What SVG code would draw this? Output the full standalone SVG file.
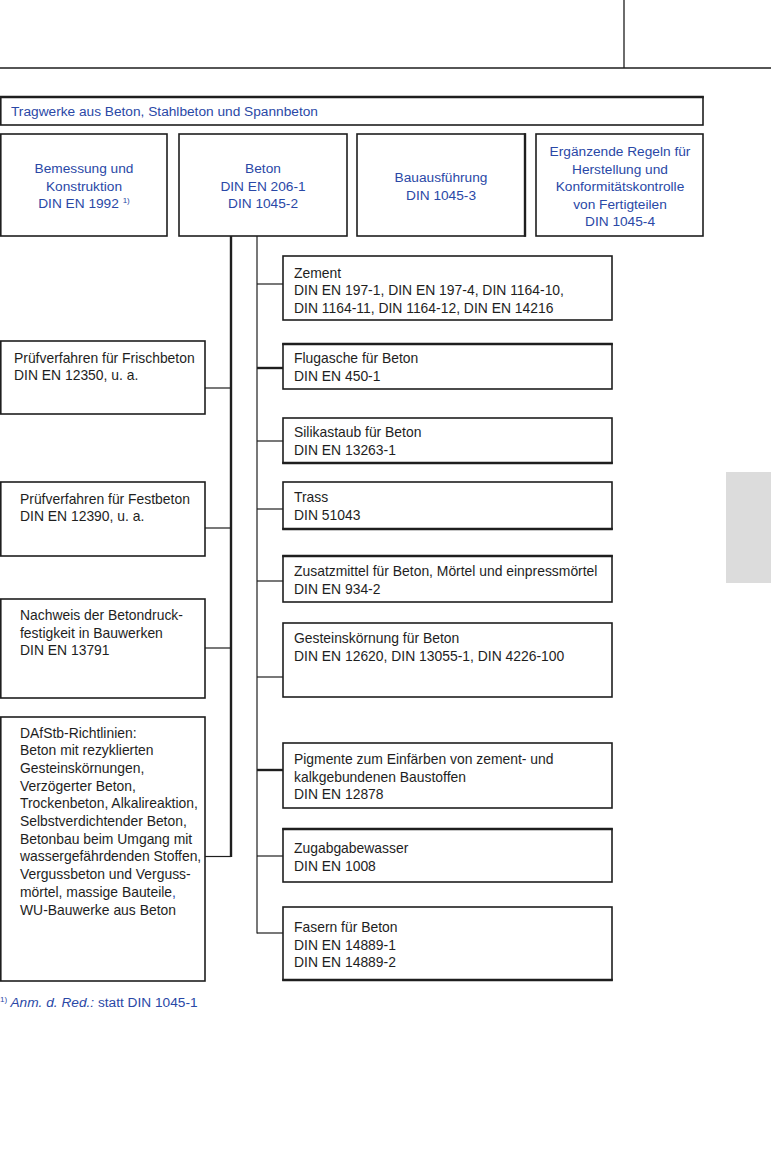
<svg xmlns="http://www.w3.org/2000/svg" width="771" height="1151" viewBox="0 0 771 1151">
<style>
.box{fill:#fff;stroke:#1e1e1e;stroke-width:1.6}
.t{font-family:"Liberation Sans",Arial,sans-serif;font-size:13.9px;fill:#1e1e1e}
.b{font-family:"Liberation Sans",Arial,sans-serif;font-size:13.7px;fill:#2a48a6}
.c{text-anchor:middle}
.thin{stroke:#1e1e1e;stroke-width:1.2;fill:none}
.thick{stroke:#1e1e1e;stroke-width:2.4;fill:none}
</style>
<rect width="771" height="1151" fill="#fff"/>
<g id="header">
<line x1="0" y1="68" x2="771" y2="68" stroke="#1e1e1e" stroke-width="1.3"/>
<line x1="624" y1="0" x2="624" y2="68" stroke="#1e1e1e" stroke-width="1.3"/>
<rect x="726" y="472" width="45" height="111" fill="#dcdcdc"/>
</g>
<g id="connectors">
<line class="thick" x1="231" y1="236" x2="231" y2="857"/>
<line class="thin" x1="257" y1="236" x2="257" y2="933.6"/>
<line class="thin" x1="205" y1="388" x2="231" y2="388"/>
<line class="thin" x1="205" y1="528" x2="231" y2="528"/>
<line class="thin" x1="205" y1="648" x2="231" y2="648"/>
<line class="thin" x1="205" y1="856.5" x2="231" y2="856.5"/>
<line class="thin" x1="257" y1="284" x2="283" y2="284"/>
<line class="thick" x1="257" y1="368" x2="283" y2="368"/>
<line class="thin" x1="257" y1="441" x2="283" y2="441"/>
<line class="thin" x1="257" y1="509" x2="283" y2="509"/>
<line class="thin" x1="257" y1="581" x2="283" y2="581"/>
<line class="thin" x1="257" y1="677" x2="283" y2="677"/>
<line class="thick" x1="257" y1="770" x2="283" y2="770"/>
<line class="thin" x1="257" y1="856" x2="283" y2="856"/>
<line class="thin" x1="257" y1="933" x2="283" y2="933"/>
</g>
<g id="n-tragwerke">
<rect class="box" x="0.8" y="97" width="702.2" height="28"/>
<line x1="0" y1="97" x2="703.8" y2="97" stroke="#1e1e1e" stroke-width="2.4"/>
<text class="b" x="11" y="115.5">Tragwerke aus Beton, Stahlbeton und Spannbeton</text>
</g>
<g id="n-bemessung">
<rect class="box" x="0.8" y="134" width="166.2" height="102"/>
<text class="b c" x="84" y="173">Bemessung und</text>
<text class="b c" x="84" y="190.5">Konstruktion</text>
<text class="b c" x="84" y="208">DIN EN 1992 <tspan font-size="8" dy="-5">1)</tspan></text>
</g>
<g id="n-beton">
<rect class="box" x="179" y="134" width="168" height="102"/>
<text class="b c" x="263" y="173">Beton</text>
<text class="b c" x="263" y="190.5">DIN EN 206-1</text>
<text class="b c" x="263" y="208">DIN 1045-2</text>
</g>
<g id="n-bauausfuehrung">
<rect class="box" x="357" y="134" width="168" height="102"/>
<line x1="525" y1="133.2" x2="525" y2="236.8" stroke="#1e1e1e" stroke-width="2.4"/>
<text class="b c" x="441" y="182">Bauausführung</text>
<text class="b c" x="441" y="199.5">DIN 1045-3</text>
</g>
<g id="n-fertigteile">
<rect class="box" x="536" y="134" width="167" height="102"/>
<text class="b c" x="620" y="156">Ergänzende Regeln für</text>
<text class="b c" x="620" y="173.5">Herstellung und</text>
<text class="b c" x="620" y="191">Konformitätskontrolle</text>
<text class="b c" x="620" y="208.5">von Fertigteilen</text>
<text class="b c" x="620" y="226">DIN 1045-4</text>
</g>
<g id="n-frischbeton">
<rect class="box" x="0.8" y="341" width="204.2" height="73"/>
<text class="t" x="14" y="362.5">Prüfverfahren für Frischbeton</text>
<text class="t" x="14" y="380">DIN EN 12350, u. a.</text>
</g>
<g id="n-festbeton">
<rect class="box" x="0.8" y="482" width="204.2" height="74"/>
<text class="t" x="20" y="503.5">Prüfverfahren für Festbeton</text>
<text class="t" x="20" y="521">DIN EN 12390, u. a.</text>
</g>
<g id="n-nachweis">
<rect class="box" x="0.8" y="599" width="204.2" height="99"/>
<text class="t" x="20" y="620">Nachweis der Betondruck-</text>
<text class="t" x="20" y="637.5">festigkeit in Bauwerken</text>
<text class="t" x="20" y="655">DIN EN 13791</text>
</g>
<g id="n-dafstb">
<rect class="box" x="0.8" y="717" width="204.2" height="264"/>
<text class="t" x="20" y="737.5">DAfStb-Richtlinien:</text>
<text class="t" x="20" y="755.2">Beton mit rezyklierten</text>
<text class="t" x="20" y="772.9">Gesteinskörnungen,</text>
<text class="t" x="20" y="790.6">Verzögerter Beton,</text>
<text class="t" x="20" y="808.3">Trockenbeton, Alkalireaktion,</text>
<text class="t" x="20" y="826">Selbstverdichtender Beton,</text>
<text class="t" x="20" y="843.7">Betonbau beim Umgang mit</text>
<text class="t" x="20" y="861.4">wassergefährdenden Stoffen,</text>
<text class="t" x="20" y="879.1">Vergussbeton und Verguss-</text>
<text class="t" x="20" y="896.8">mörtel, massige Bauteile<tspan fill="#2a48a6">,</tspan></text>
<text class="t" x="20" y="914.5">WU-Bauwerke aus Beton</text>
</g>
<g id="n-zement">
<rect class="box" x="283" y="256" width="329" height="64"/>
<text class="t" x="294" y="277.5">Zement</text>
<text class="t" x="294" y="295">DIN EN 197-1, DIN EN 197-4, DIN 1164-10,</text>
<text class="t" x="294" y="312.5">DIN 1164-11, DIN 1164-12, DIN EN 14216</text>
</g>
<g id="n-flugasche">
<rect class="box" x="283" y="344" width="329" height="45"/>
<line x1="282.2" y1="344" x2="612.8" y2="344" stroke="#1e1e1e" stroke-width="2.4"/>
<text class="t" x="294" y="363">Flugasche für Beton</text>
<text class="t" x="294" y="380.5">DIN EN 450-1</text>
</g>
<g id="n-silika">
<rect class="box" x="283" y="418" width="329" height="45"/>
<line x1="282.2" y1="463" x2="612.8" y2="463" stroke="#1e1e1e" stroke-width="2.4"/>
<text class="t" x="294" y="437">Silikastaub für Beton</text>
<text class="t" x="294" y="454.5">DIN EN 13263-1</text>
</g>
<g id="n-trass">
<rect class="box" x="283" y="482" width="329" height="47"/>
<line x1="282.2" y1="529" x2="612.8" y2="529" stroke="#1e1e1e" stroke-width="2.4"/>
<text class="t" x="294" y="502">Trass</text>
<text class="t" x="294" y="519.5">DIN 51043</text>
</g>
<g id="n-zusatzmittel">
<rect class="box" x="283" y="556" width="329" height="46"/>
<line x1="282.2" y1="556" x2="612.8" y2="556" stroke="#1e1e1e" stroke-width="2.4"/>
<text class="t" x="294" y="576">Zusatzmittel für Beton, Mörtel und einpressmörtel</text>
<text class="t" x="294" y="593.5">DIN EN 934-2</text>
</g>
<g id="n-gesteinskoernung">
<rect class="box" x="283" y="623" width="329" height="74"/>
<text class="t" x="294" y="643">Gesteinskörnung für Beton</text>
<text class="t" x="294" y="660.5">DIN EN 12620, DIN 13055-1, DIN 4226-100</text>
</g>
<g id="n-pigmente">
<rect class="box" x="283" y="743" width="329" height="65"/>
<text class="t" x="294" y="764">Pigmente zum Einfärben von zement- und</text>
<text class="t" x="294" y="781.5">kalkgebundenen Baustoffen</text>
<text class="t" x="294" y="799">DIN EN 12878</text>
</g>
<g id="n-zugabewasser">
<rect class="box" x="283" y="829" width="329" height="53"/>
<line x1="282.2" y1="829" x2="612.8" y2="829" stroke="#1e1e1e" stroke-width="2.4"/>
<text class="t" x="294" y="853">Zugabgabewasser</text>
<text class="t" x="294" y="870.5">DIN EN 1008</text>
</g>
<g id="n-fasern">
<rect class="box" x="283" y="907" width="329" height="73"/>
<line x1="282.2" y1="980" x2="612.8" y2="980" stroke="#1e1e1e" stroke-width="2.4"/>
<text class="t" x="294" y="932">Fasern für Beton</text>
<text class="t" x="294" y="949.5">DIN EN 14889-1</text>
<text class="t" x="294" y="967">DIN EN 14889-2</text>
</g>
<g id="footnote">
<text class="b" x="0" y="1006.5"><tspan font-size="8" dy="-5">1)</tspan><tspan dy="5" font-style="italic"> Anm. d. Red.:</tspan> statt DIN 1045-1</text>
</g>
</svg>
